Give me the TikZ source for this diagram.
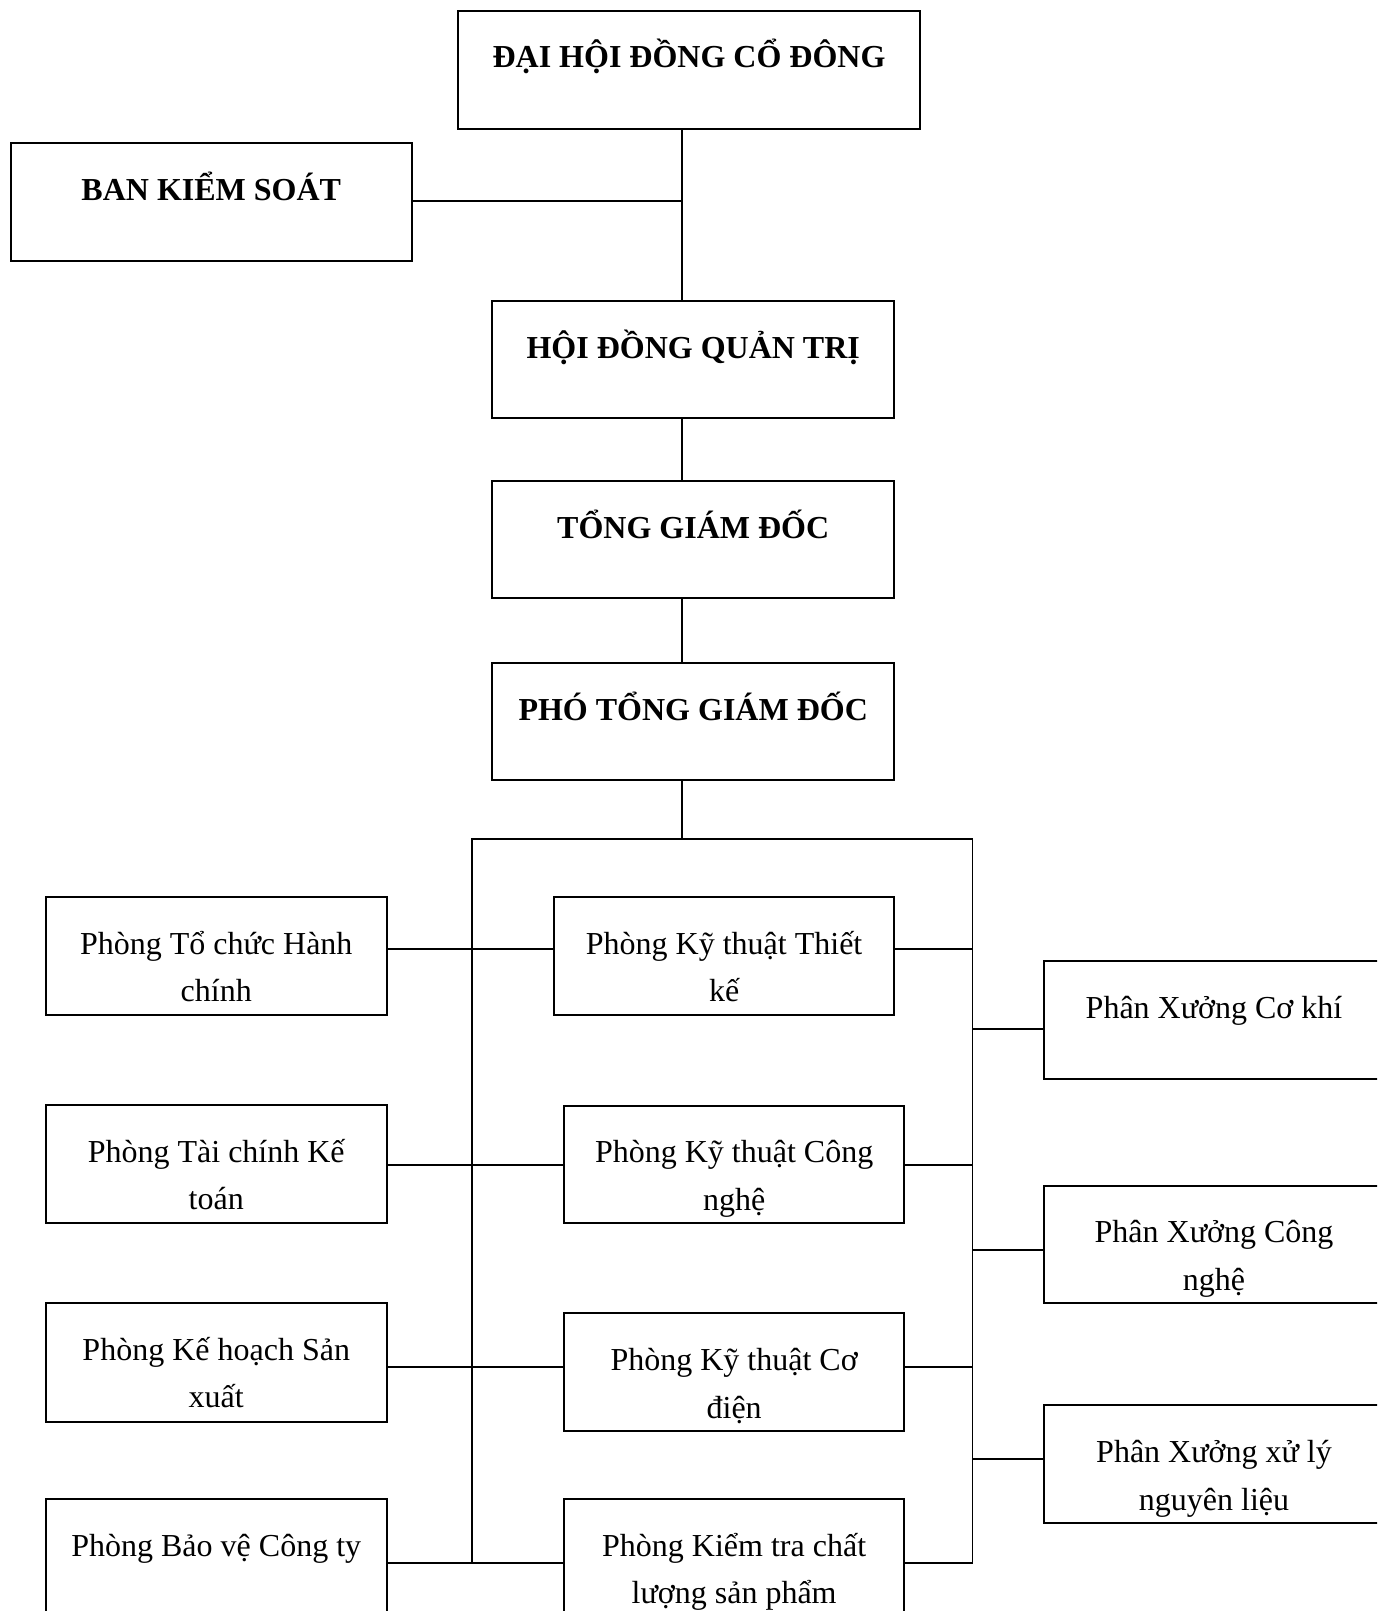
\documentclass[tikz,border=0pt]{standalone}
\usepackage{fontspec}
\setmainfont{Liberation Serif}
\begin{document}
\begin{tikzpicture}[x=1pt,y=-1pt,
  box/.style={draw, line width=2pt, inner sep=0pt, outer sep=0pt, anchor=north west},
  txt/.style={anchor=north, inner sep=0pt, align=center, yshift=-23pt, font=\fontsize{32}{47.5}\selectfont},
  btxt/.style={txt, font=\fontsize{32}{47.5}\selectfont\bfseries},
  conn/.style={line width=1.9pt}]
\useasboundingbox (0,0) rectangle (1377,1611);
\clip (0,0) rectangle (1377,1611);
\newcommand{\st}{\rule{0pt}{34pt}}
% top boxes
\node[box, minimum width=462pt, minimum height=118pt] (dh) at (458,10.7) {};
\node[btxt] (dht) at (dh.north) {\st ĐẠI HỘI ĐỒNG CỔ ĐÔNG};
\node[box, minimum width=401.5pt, minimum height=117.7pt] (bks) at (10.5,143.3) {};
\node[btxt] (bkst) at (bks.north) {\st BAN KIỂM SOÁT};
\node[box, minimum width=402pt, minimum height=117.2pt] (hd) at (492.2,301) {};
\node[btxt] (hdt) at (hd.north) {\st HỘI ĐỒNG QUẢN TRỊ};
\node[box, minimum width=402pt, minimum height=117pt] (tg) at (492.2,481) {};
\node[btxt] (tgt) at (tg.north) {\st TỔNG GIÁM ĐỐC};
\node[box, minimum width=402pt, minimum height=117.2pt] (pt) at (492.2,662.8) {};
\node[btxt] (ptt) at (pt.north) {\st PHÓ TỔNG GIÁM ĐỐC};
% left column
\node[box, minimum width=340.5pt, minimum height=118pt] (l1) at (46,897) {};
\node[txt] (l1t) at (l1.north) {\st Phòng Tổ chức Hành\\chính};
\node[box, minimum width=340.5pt, minimum height=118pt] (l2) at (46,1105) {};
\node[txt] (l2t) at (l2.north) {\st Phòng Tài chính Kế\\toán};
\node[box, minimum width=340.5pt, minimum height=118.5pt] (l3) at (46,1303) {};
\node[txt] (l3t) at (l3.north) {\st Phòng Kế hoạch Sản\\xuất};
\node[box, minimum width=340.5pt, minimum height=118pt] (l4) at (46,1499) {};
\node[txt] (l4t) at (l4.north) {\st Phòng Bảo vệ Công ty};
% middle column
\node[box, minimum width=340.3pt, minimum height=118pt] (m1) at (554,897) {};
\node[txt] (m1t) at (m1.north) {\st Phòng Kỹ thuật Thiết\\kế};
\node[box, minimum width=340.3pt, minimum height=117.5pt] (m2) at (564,1105.7) {};
\node[txt] (m2t) at (m2.north) {\st Phòng Kỹ thuật Công\\nghệ};
\node[box, minimum width=340.3pt, minimum height=117.7pt] (m3) at (564,1313.3) {};
\node[txt] (m3t) at (m3.north) {\st Phòng Kỹ thuật Cơ\\điện};
\node[box, minimum width=340.3pt, minimum height=118pt] (m4) at (564,1499) {};
\node[txt] (m4t) at (m4.north) {\st Phòng Kiểm tra chất\\lượng sản phẩm};
% right column
\node[box, minimum width=340pt, minimum height=117.7pt] (r1) at (1044,961.3) {};
\node[txt] (r1t) at (r1.north) {\st Phân Xưởng Cơ khí};
\node[box, minimum width=340pt, minimum height=117.3pt] (r2) at (1044,1185.7) {};
\node[txt] (r2t) at (r2.north) {\st Phân Xưởng Công\\nghệ};
\node[box, minimum width=340pt, minimum height=118pt] (r3) at (1044,1405.3) {};
\node[txt] (r3t) at (r3.north) {\st Phân Xưởng xử lý\\nguyên liệu};
% helper coordinates
\coordinate (spine) at (682,0);
\coordinate (bksrow) at (0,200.7);
\coordinate (busL) at (471.9,839);
\coordinate (busR) at (972.5,839);
\coordinate (rowA) at (0,948.7);
\coordinate (rowB) at (0,1165.3);
\coordinate (rowC) at (0,1367);
\coordinate (rowD) at (0,1563);
\coordinate (rowE) at (0,1029.3);
\coordinate (rowF) at (0,1249.6);
\coordinate (rowG) at (0,1459.3);
% connectors
\draw[conn] (dh.south -| spine) -- (hd.north -| spine);
\draw[conn] (bks.east |- bksrow) -- (spine |- bksrow);
\draw[conn] (hd.south -| spine) -- (tg.north -| spine);
\draw[conn] (tg.south -| spine) -- (pt.north -| spine);
\draw[conn] (pt.south -| spine) -- (spine |- busL);
\draw[conn] (busL |- rowD) -- (busL) -- (busR) -- (busR |- rowD);
\draw[conn] (l1.east |- rowA) -- (m1.west |- rowA);
\draw[conn] (l2.east |- rowB) -- (m2.west |- rowB);
\draw[conn] (l3.east |- rowC) -- (m3.west |- rowC);
\draw[conn] (l4.east |- rowD) -- (m4.west |- rowD);
\draw[conn] (m1.east |- rowA) -- (busR |- rowA);
\draw[conn] (m2.east |- rowB) -- (busR |- rowB);
\draw[conn] (m3.east |- rowC) -- (busR |- rowC);
\draw[conn] (m4.east |- rowD) -- (busR |- rowD);
\draw[conn] (busR |- rowE) -- (r1.west |- rowE);
\draw[conn] (busR |- rowF) -- (r2.west |- rowF);
\draw[conn] (busR |- rowG) -- (r3.west |- rowG);
\end{tikzpicture}
\end{document}
